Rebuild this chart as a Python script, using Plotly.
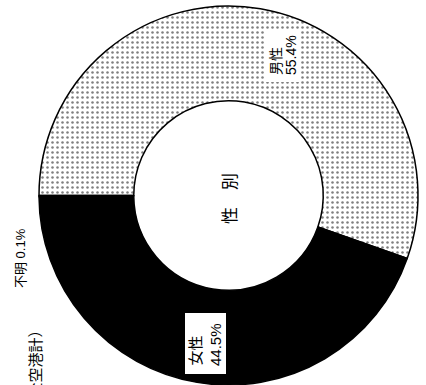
import plotly.graph_objects as go

# ---- data ----
labels = ["男性", "女性", "不明"]
values = [55.4, 44.5, 0.1]
pct_text = ["55.4%", "44.5%", "0.1%"]
center_label = "性　別"
title_text = "（全空港計）"

# ---- layout helpers ----
W, H = 426, 385
ml, mr, mt, mb = 39, 8, 6, 0
pw = W - ml - mr
ph = H - mt - mb


def px(x):
    return (x - ml) / pw


def py(y):
    return (H - mb - y) / ph


FONT = "Liberation Sans, Noto Sans CJK JP"

fig = go.Figure(
    go.Pie(
        labels=labels,
        values=values,
        sort=False,
        direction="clockwise",
        rotation=270,
        hole=0.5,
        textinfo="none",
        hoverinfo="skip",
        showlegend=False,
        marker=dict(
            colors=["white", "black", "#808080"],
            line=dict(color="black", width=1.5),
            pattern=dict(
                shape=[".", "", ""],
                fgcolor="black",
                size=5,
                solidity=0.2,
                fillmode="overlay",
            ),
        ),
    )
)

shapes = [
    # white label boxes
    dict(type="rect", xref="paper", yref="paper", x0=px(266), x1=px(301), y0=py(82), y1=py(30),
         fillcolor="white", line=dict(width=0), layer="above"),
    dict(type="rect", xref="paper", yref="paper", x0=px(185), x1=px(226), y0=py(374), y1=py(313),
         fillcolor="white", line=dict(width=0), layer="above"),
]

annotations = []


def add(text, x, y, size, yanchor="bottom"):
    annotations.append(dict(
        text=text, xref="paper", yref="paper", x=px(x), y=py(y),
        xanchor="center", yanchor=yanchor, textangle=-90, showarrow=False,
        font=dict(family=FONT, size=size, color="black"),
    ))


add(labels[0], 276, 77, 14)
add(pct_text[0], 291, 77, 14)
add(labels[1], 194.5, 368, 15)
add(pct_text[1], 215.5, 368, 15)
add(labels[2] + " " + pct_text[2], 20, 290, 13)
add(center_label, 230, 199, 17, yanchor="middle")
add(title_text, 34.5, 321, 15, yanchor="top")

fig.update_layout(
    width=W, height=H,
    margin=dict(l=ml, r=mr, t=mt, b=mb),
    paper_bgcolor="white", plot_bgcolor="white",
    shapes=shapes, annotations=annotations,
    showlegend=False,
)

fig.write_html("out.html", config={"displayModeBar": False},
               post_script="document.body.style.margin='0';")
